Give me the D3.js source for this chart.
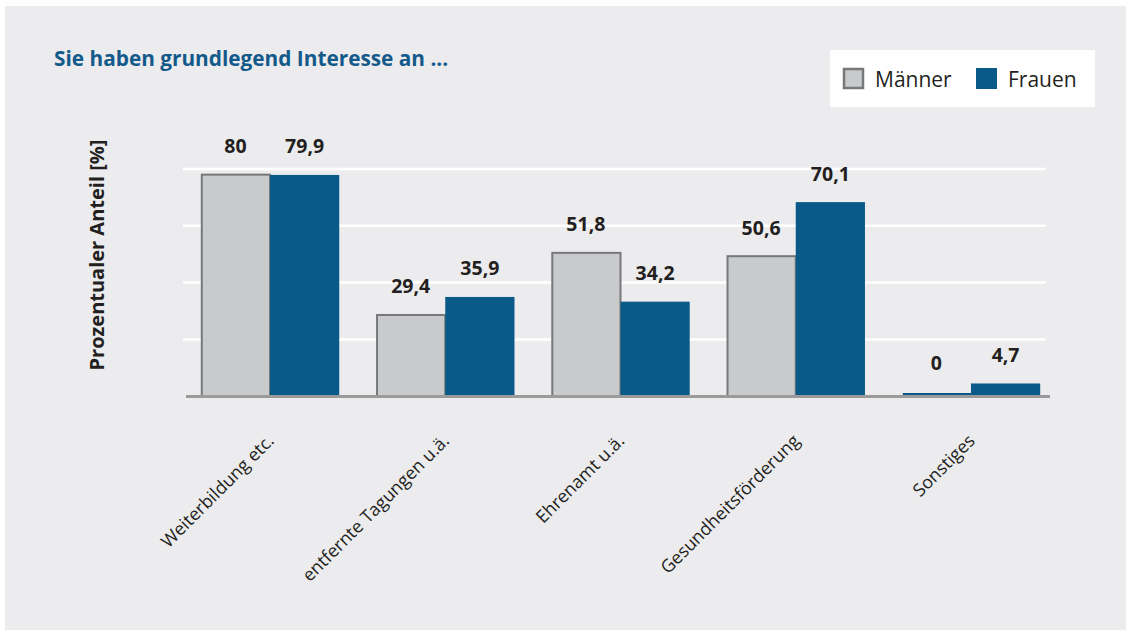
<!DOCTYPE html>
<html>
<head>
<meta charset="utf-8">
<script src="https://cdn.jsdelivr.net/npm/d3@7/dist/d3.min.js"></script>
<style>
  html, body { margin: 0; padding: 0; background: #ffffff; }
  svg { display: block; }
  text { font-family: "Open Sans", "Noto Sans", sans-serif; }
</style>
</head>
<body>
<svg id="chart" width="1126" height="630"></svg>
<script>
// ---- data ----
const categories = ["Weiterbildung etc.", "entfernte Tagungen u.ä.", "Ehrenamt u.ä.", "Gesundheitsförderung", "Sonstiges"];
const seriesNames = ["Männer", "Frauen"];
const maenner = [80, 29.4, 51.8, 50.6, 0];
const frauen = [79.9, 35.9, 34.2, 70.1, 4.7];
const valueLabels = [["80", "29,4", "51,8", "50,6", "0"], ["79,9", "35,9", "34,2", "70,1", "4,7"]];
const gridValues = [20.6, 41.1, 61.6, 82];
const title = "Sie haben grundlegend Interesse an ...";
const yTitle = "Prozentualer Anteil [%]";

const colors = { "Männer": "#c9cacc", "Frauen": "#0a5a89" };
const stroke = { "Männer": "#77787a", "Frauen": "none" };

const svg = d3.select("#chart");
const W = 1126, H = 630;

// panel background
svg.append("rect").attr("x", 5).attr("y", 6).attr("width", W - 5).attr("height", H - 6).attr("fill", "#ececee");

// scales
const x0 = d3.scaleBand().domain(categories).range([182.4, 1058.6]).paddingInner(0.21).paddingOuter(0.105);
const x1 = d3.scaleBand().domain(seriesNames).range([0, x0.bandwidth()]);
const y = d3.scaleLinear().domain([0, 100]).range([396.5, 119.2]);

// gridlines
const grid = svg.append("g").attr("class", "grid");
grid.selectAll("line").data(gridValues).enter().append("line")
  .attr("x1", 183).attr("x2", 1046)
  .attr("y1", d => y(d)).attr("y2", d => y(d))
  .attr("stroke", "#ffffff").attr("stroke-width", 2.5);

// bars
const rows = categories.map((c, i) => ({ cat: c, values: [
  { s: "Männer", v: maenner[i], label: valueLabels[0][i] },
  { s: "Frauen", v: frauen[i], label: valueLabels[1][i] }
]}));

const groups = svg.append("g").selectAll("g.grp").data(rows).enter().append("g")
  .attr("class", "grp")
  .attr("transform", d => `translate(${x0(d.cat)},0)`);

groups.selectAll("rect.bar").data(d => d.values.filter(v => v.v > 0)).enter().append("rect")
  .attr("class", "bar")
  .attr("x", d => x1(d.s) + (d.s === "Männer" ? 1 : 0))
  .attr("width", d => x1.bandwidth() - (d.s === "Männer" ? 1 : 0))
  .attr("y", d => y(d.v))
  .attr("height", d => y(0) - y(d.v))
  .attr("fill", d => colors[d.s])
  .attr("stroke", d => stroke[d.s])
  .attr("stroke-width", 2);

// zero-value marker (thin line at baseline)
groups.selectAll("rect.zero").data(d => d.values.filter(v => v.v === 0)).enter().append("rect")
  .attr("class", "zero")
  .attr("x", d => x1(d.s) + 1)
  .attr("width", d => x1.bandwidth() - 1)
  .attr("y", y(0) - 3.5)
  .attr("height", 2)
  .attr("fill", colors["Frauen"]);

// value labels
groups.selectAll("text.val").data(d => d.values).enter().append("text")
  .attr("class", "val")
  .attr("x", d => x1(d.s) + x1.bandwidth() / 2)
  .attr("y", d => y(d.v) - (d.v === 0 ? 27 : 21.5))
  .attr("text-anchor", "middle")
  .attr("font-size", 19.5)
  .attr("font-weight", "bold")
  .attr("fill", "#231f20")
  .text(d => d.label);

// baseline
svg.append("line").attr("x1", 186).attr("x2", 1050).attr("y1", y(0)).attr("y2", y(0))
  .attr("stroke", "#9a9a9a").attr("stroke-width", 3);

// x axis labels
svg.append("g").selectAll("text").data(categories).enter().append("text")
  .attr("transform", d => `translate(${x0(d) + x0.bandwidth() / 2 + 5},442) rotate(-45)`)
  .attr("text-anchor", "end")
  .attr("font-size", 17.8)
  .attr("fill", "#231f20")
  .text(d => d);

// y title
svg.append("text")
  .attr("transform", "translate(104,255) rotate(-90)")
  .attr("text-anchor", "middle")
  .attr("font-size", 20)
  .attr("font-weight", "bold")
  .attr("fill", "#231f20")
  .text(yTitle);

// title
svg.append("text").attr("x", 54).attr("y", 66)
  .attr("font-size", 20.8).attr("font-weight", "bold").attr("fill", "#135a8b")
  .text(title);

// legend
const lg = svg.append("g");
lg.append("rect").attr("x", 830).attr("y", 50).attr("width", 265).attr("height", 57).attr("fill", "#ffffff");
const legendX = [843, 976];
seriesNames.forEach((s, i) => {
  lg.append("rect")
    .attr("x", legendX[i] + (s === "Männer" ? 1 : 0)).attr("y", 68 + (s === "Männer" ? 1 : 0))
    .attr("width", s === "Männer" ? 19 : 21).attr("height", s === "Männer" ? 19 : 21)
    .attr("fill", colors[s]).attr("stroke", stroke[s]).attr("stroke-width", 2.5);
  lg.append("text").attr("x", legendX[i] + 32).attr("y", 86.5)
    .attr("font-size", 21).attr("fill", "#231f20").text(s);
});
</script>
</body>
</html>
